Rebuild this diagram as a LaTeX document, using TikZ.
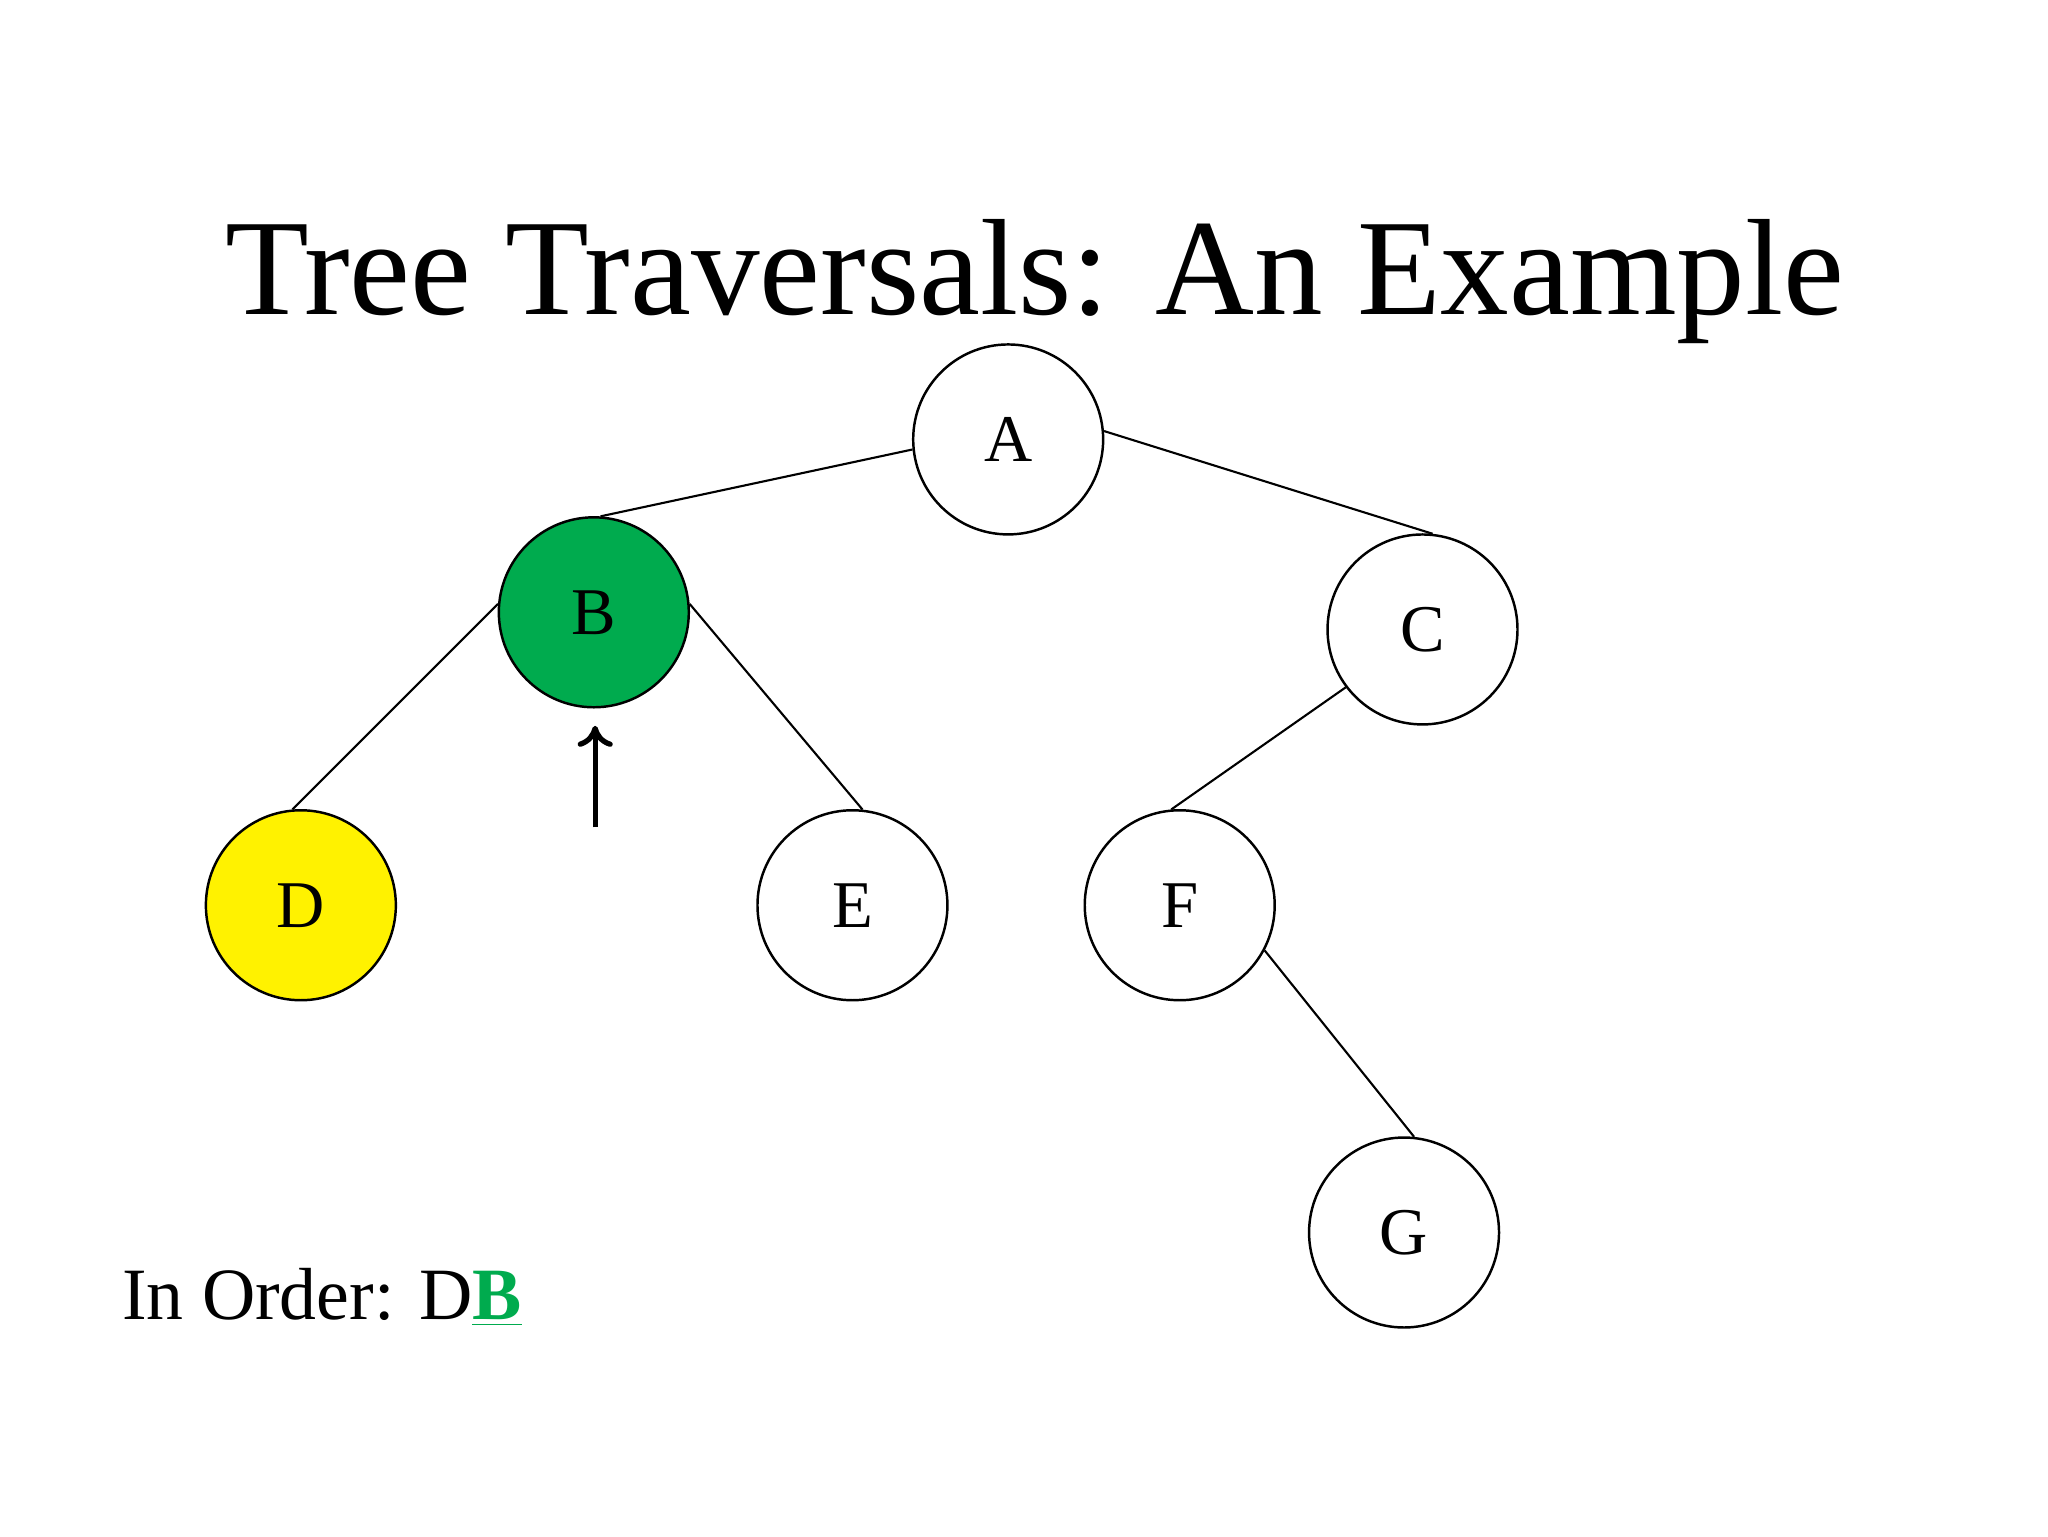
\documentclass[tikz,border=0pt]{standalone}
\usepackage{fontspec}
\setmainfont{Liberation Serif}
\usetikzlibrary{arrows.meta}
\definecolor{tgreen}{HTML}{00AB4E}
\begin{document}
\begin{tikzpicture}[x=0.013196cm,y=-0.013196cm,
  tnode/.style={circle,draw,line width=0.7pt,minimum size=1.9cm,inner sep=0pt,font=\fontsize{19}{22}\selectfont},
  edge/.style={line width=0.6pt}]
\useasboundingbox (0,0) rectangle (1552,1164);
\node[anchor=base,font=\fontsize{39}{44}\selectfont] (title) at (784,238) {Tree Traversals: An Example};
\node[tnode] (A) at (764,333) {A};
\node[tnode,fill=tgreen] (B) at (450,464) {B};
\node[tnode] (C) at (1078,477) {C};
\node[tnode,fill=yellow] (D) at (228,686) {D};
\node[tnode] (E) at (646,686) {E};
\node[tnode] (F) at (894,686) {F};
\node[tnode] (G) at (1064,934) {G};
\draw[edge] (A.186) -- (B.86);
\draw[edge] (A.5) -- (C.84);
\draw[edge] (B.175) -- (D.95);
\draw[edge] (B.5) -- (E.84);
\draw[edge] (C.217) -- (F.95);
\draw[edge] (F.332) -- (G.84);
\coordinate (arrS) at (451,627);
\coordinate (arrE) at (451,550);
\draw[line width=1.5pt,-{To[length=6pt,width=10pt]}] (arrS) -- (arrE);
\node[anchor=base west,inner sep=0pt,font=\fontsize{21}{25}\selectfont] (order) at (92,1000) {In Order: D\textcolor{tgreen}{\bfseries\underline{B}}};
\end{tikzpicture}
\end{document}
